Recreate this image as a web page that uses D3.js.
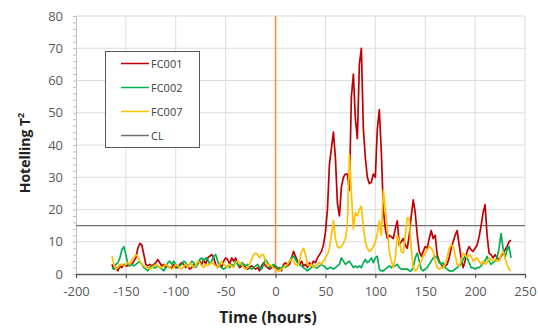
<!DOCTYPE html>
<html>
<head>
<meta charset="utf-8">
<script src="https://cdn.jsdelivr.net/npm/d3@7"></script>
<style>
  body { margin: 0; background: #fff; }
  text { font-family: "Open Sans", "Liberation Sans", sans-serif; }
</style>
</head>
<body>
<svg id="chart" width="538" height="329"></svg>
<script>
// sample times (hours)
const hours = [
  -164,-162,-160,-158,-156,-154,-152,-150,-148,-146,
  -144,-142,-140,-138,-136,-134,-132,-130,-128,-126,
  -124,-122,-120,-118,-116,-114,-112,-110,-108,-106,
  -104,-102,-100,-98,-96,-94,-92,-90,-88,-86,
  -84,-82,-80,-78,-76,-74,-72,-70,-68,-66,
  -64,-62,-60,-58,-56,-54,-52,-50,-48,-46,
  -44,-42,-40,-38,-36,-34,-32,-30,-28,-26,
  -24,-22,-20,-18,-16,-14,-12,-10,-8,-6,
  -4,-2,0,2,4,6,8,10,12,14,
  16,18,20,22,24,26,28,30,32,34,
  36,38,40,42,44,46,48,50,52,54,
  56,58,60,62,64,66,68,70,72,74,
  76,78,80,82,84,86,88,90,92,94,
  96,98,100,102,104,106,108,110,112,114,
  116,118,120,122,124,126,128,130,132,134,
  136,138,140,142,144,146,148,150,152,154,
  156,158,160,162,164,166,168,170,172,174,
  176,178,180,182,184,186,188,190,192,194,
  196,198,200,202,204,206,208,210,212,214,
  216,218,220,222,224,226,228,230,232,234,
  236
]

const fc001 = [
  3, 1.5, 2, 1, 2.5, 2, 3, 2.5, 2.5, 3,
  3, 4, 5, 8, 9.5, 9, 6, 3, 2.5, 3,
  2.5, 3, 3.5, 4.5, 3.5, 2.5, 3, 2, 2.5, 2,
  2, 3, 2, 2, 3, 3.5, 3, 2, 2.5, 1.5,
  2, 3, 2.5, 3.5, 4, 3, 4.5, 3, 5, 5.5,
  6, 5, 3, 2, 3, 2, 4, 5, 4.5, 3,
  5, 4, 5, 3, 2, 2.5, 3, 2, 1.5, 2,
  2.5, 2, 1.5, 2, 1, 2.5, 3.5, 2.5, 2, 1.5,
  2, 2.5, 2, 1.5, 2, 1, 3, 3.5, 2.5, 3,
  5, 7, 5.5, 4, 3, 4, 2.5, 3, 2, 3.5,
  2.5, 4, 3.5, 5, 6, 7, 9, 13, 20, 34,
  39, 44, 36, 22, 18, 27, 30, 31, 31, 26,
  55, 62, 48, 42, 65, 70, 45, 36, 30, 28,
  28.5, 31, 30, 45, 51, 38, 20, 14, 11, 12,
  11.5, 11, 14, 16.5, 9, 10, 11, 9, 8, 12,
  18, 23, 19, 12, 7, 5.5, 7, 8.5, 8, 11,
  13.5, 11, 12, 6, 4, 3, 2, 2.5, 3, 5,
  8, 10, 12, 13.5, 9, 5, 2, 4, 7, 8.5,
  7.5, 7, 8, 9, 11.5, 15, 19, 21.5, 12, 6.5,
  6, 5, 6, 5, 4.5, 5.5, 6.5, 7.5, 8.5, 10,
  10.5
]

const fc002 = [
  2, 1.5, 3, 3.5, 5, 7.5, 8.5, 6, 3, 2.5,
  3, 2.5, 3, 3.5, 4, 3, 2, 1.5, 1, 2,
  2.5, 2, 2, 2.5, 2, 1.5, 1, 2, 3.5, 4,
  3, 4, 3, 2, 2.5, 3, 4, 3.5, 2.5, 3,
  4, 3.5, 2, 3, 4.5, 5, 4, 5, 4.5, 3,
  4, 5.5, 6, 4, 2.5, 2, 1.5, 2, 2.5, 2,
  3, 2.5, 4, 3, 2.5, 3.5, 3, 2.5, 3, 2,
  1.5, 2, 2.5, 3, 2, 1.5, 3, 4.5, 3.5, 2,
  2.5, 3, 2.5, 2, 1.5, 2, 2.5, 2, 3, 4,
  5, 5.5, 4.5, 3.5, 3, 2.5, 2, 1.5, 1, 1.5,
  2, 2.5, 2, 2, 2.5, 3, 2.5, 2, 1.5, 2,
  2, 1.5, 2, 2.5, 3, 5, 4, 3, 3.5, 4,
  3, 2, 2.5, 2, 2.5, 2, 3.5, 4.5, 3.5, 4,
  5, 3.5, 5, 5.5, 1.5, 1, 1, 1.5, 2, 2.5,
  2, 2.5, 2.5, 3, 2, 1.5, 1.5, 1.5, 1.5, 1,
  1, 2, 5, 6.5, 4, 1.5, 1, 1.5, 2, 3,
  4, 5, 5.5, 5, 3.5, 3, 3.5, 2, 1.5, 1,
  1, 1, 1.5, 2, 2.5, 3, 4.5, 5.5, 5, 3.5,
  2, 2, 1.5, 2, 2, 2.5, 3.5, 4, 5.5, 4,
  3, 3.5, 4, 5, 8, 12.5, 8, 5, 7.5, 8.5,
  5
]

const fc007 = [
  5.5, 3, 1.5, 2, 3, 3, 2.5, 3, 3.5, 3,
  4.5, 5, 6, 5.5, 4, 3, 2.5, 2, 2, 1.5,
  2, 2.5, 3, 2.5, 2, 2, 2.5, 3, 2.5, 2,
  1.5, 2, 3, 2.5, 2, 1.5, 2.5, 3, 2, 3.5,
  3, 2, 2.5, 4, 3.5, 2.5, 2, 3, 2.5, 3,
  3.5, 3, 2.5, 2, 3, 4, 3, 2.5, 2, 3,
  2.5, 2, 3.5, 4, 3.5, 3, 2, 1.5, 2, 3,
  4.5, 6, 6.5, 6, 5, 6, 6, 4, 2.5, 3,
  2.5, 2, 1.5, 1, 1, 1.5, 2, 2.5, 3, 4,
  4.5, 4, 3, 2.5, 4, 7, 8, 6, 3, 2.5,
  3, 2, 2.5, 3, 3.5, 3, 4, 5, 6, 8,
  12, 16.5, 11, 8.5, 8, 8.5, 9.5, 11, 15.5, 37,
  25, 14, 19, 18, 20, 21, 14.5, 10, 8, 7,
  7.5, 8.5, 10, 12.5, 16.5, 12, 26, 20, 14, 7,
  4, 2, 5, 12, 10, 7, 6.5, 12, 17.5, 17,
  8, 2, 1, 1.5, 3, 4, 5.5, 6.5, 7.5, 8.5,
  8, 7, 4, 2, 1.5, 2, 2, 3, 5, 8,
  9, 8.5, 6, 3, 2.5, 4, 6.5, 6, 5, 6,
  5.5, 4, 4.5, 5, 4, 3, 4, 3, 3.5, 5,
  4.5, 4, 4.5, 4, 4, 6, 7, 5, 3, 1.5,
  1
]

const controlLimit = 15
const eventTime = 0
const xTicks = [-200, -150, -100, -50, 0, 50, 100, 150, 200, 250]
const yTicks = [0, 10, 20, 30, 40, 50, 60, 70, 80]
const seriesNames = ["FC001", "FC002", "FC007"]
const seriesColors = ["#c00000", "#00b050", "#ffc000"]

const svg = d3.select("#chart")

const x = d3.scaleLinear().domain([-200, 250]).range([76, 525])
const y = d3.scaleLinear().domain([0, 80]).range([274, 16])

// grid
svg.append("g")
   .selectAll("line")
   .data(yTicks.filter(d => d > 0))
   .join("line")
   .attr("x1", x(-200)).attr("x2", x(250))
   .attr("y1", d => y(d)).attr("y2", d => y(d))
   .attr("stroke", "#dcdcdc")
   .attr("stroke-width", 1)

svg.append("g")
   .selectAll("line")
   .data(xTicks.filter(d => d > -200))
   .join("line")
   .attr("x1", d => x(d)).attr("x2", d => x(d))
   .attr("y1", y(0)).attr("y2", y(80))
   .attr("stroke", "#dcdcdc")
   .attr("stroke-width", 1)

// y axis with minor ticks
const yAxis = svg.append("g")
   .attr("transform", `translate(${x(-200)},0)`)
   .call(d3.axisLeft(y).tickValues(d3.range(0, 81, 2)).tickSize(3).tickFormat(""))
yAxis.selectAll("path, line").attr("stroke", "#bfbfbf")

svg.append("g")
   .selectAll("text")
   .data(yTicks)
   .join("text")
   .attr("x", 63)
   .attr("y", d => y(d) + 4.5)
   .attr("text-anchor", "end")
   .attr("font-size", 13)
   .attr("fill", "#595959")
   .text(d => d)

// x axis
const xAxis = svg.append("g")
   .attr("transform", `translate(0,${y(0)})`)
   .call(d3.axisBottom(x).tickValues(xTicks).tickFormat(d => String(d)).tickSize(4).tickSizeOuter(0).tickPadding(6))
xAxis.selectAll("path, line").attr("stroke", "#595959").attr("stroke-width", 1.3)
xAxis.selectAll("text")
     .attr("font-size", 13)
     .attr("fill", "#595959")
     .attr("font-family", "'Open Sans', sans-serif")
     .attr("dy", "0.95em")

// control limit
svg.append("line")
   .attr("x1", x(-200)).attr("x2", x(250))
   .attr("y1", y(controlLimit)).attr("y2", y(controlLimit))
   .attr("stroke", "#707070")
   .attr("stroke-width", 1.3)

// event line
svg.append("line")
   .attr("x1", x(eventTime)).attr("x2", x(eventTime))
   .attr("y1", y(0)).attr("y2", y(80))
   .attr("stroke", "#f0914f")
   .attr("stroke-width", 1.6)

// series
const line = d3.line()
   .x((d, i) => x(hours[i]))
   .y(d => y(d))

const seriesData = [fc001, fc002, fc007]
seriesData.forEach((vals, k) => {
    svg.append("path")
       .datum(vals)
       .attr("d", line)
       .attr("fill", "none")
       .attr("stroke", seriesColors[k])
       .attr("stroke-width", 1.7)
       .attr("stroke-linejoin", "round")
})

// legend
const legend = svg.append("g")
legend.append("rect")
      .attr("x", 105.5).attr("y", 51.5)
      .attr("width", 94).attr("height", 96)
      .attr("fill", "#fff")
      .attr("stroke", "#595959")
      .attr("stroke-width", 1)

const legendItems = seriesNames.map((n, i) => ({name: n, color: seriesColors[i]}))
legendItems.push({name: "CL", color: "#707070"})

legendItems.forEach((item, i) => {
    const ly = 63.5 + i * 24
    legend.append("line")
          .attr("x1", 121).attr("x2", 149)
          .attr("y1", ly).attr("y2", ly)
          .attr("stroke", item.color)
          .attr("stroke-width", 1.5)
    legend.append("text")
          .attr("x", 151)
          .attr("y", ly + 4)
          .attr("font-size", 11)
          .attr("fill", "#404040")
          .text(item.name)
})

// axis titles
svg.append("text")
   .attr("x", 268)
   .attr("y", 323)
   .attr("text-anchor", "middle")
   .attr("font-family", "'Liberation Sans', Arial, sans-serif")
   .attr("font-weight", "bold")
   .attr("font-size", 15.5)
   .attr("fill", "#222")
   .text("Time (hours)")

const yTitle = svg.append("text")
   .attr("transform", "translate(30,153) rotate(-90)")
   .attr("text-anchor", "middle")
   .attr("font-family", "'Liberation Sans', Arial, sans-serif")
   .attr("font-weight", "bold")
   .attr("font-size", 14)
   .attr("fill", "#222")
yTitle.append("tspan").text("Hotelling T")
yTitle.append("tspan").attr("dy", -6).attr("font-size", 9).text("2")
</script>
</body>
</html>
